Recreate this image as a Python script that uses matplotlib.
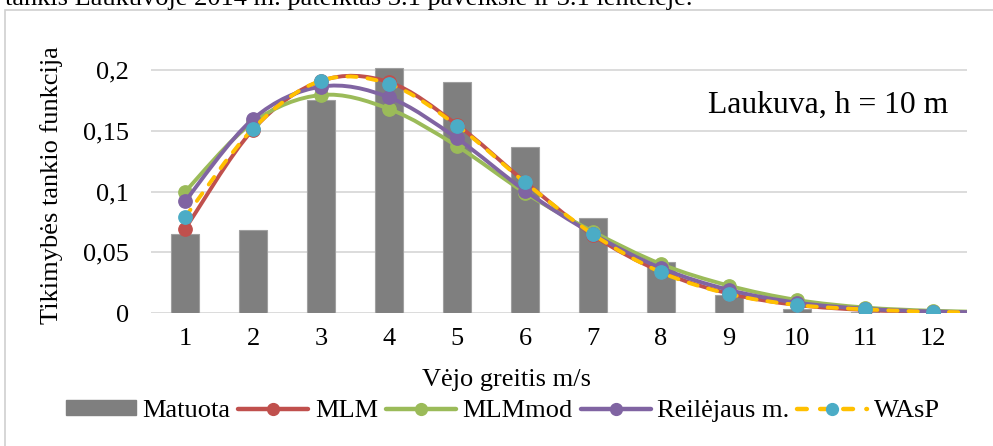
import numpy as np
import matplotlib
matplotlib.use("Agg")
import matplotlib.pyplot as plt
from matplotlib.path import Path
from matplotlib.patches import PathPatch, Patch, Rectangle
from matplotlib.lines import Line2D

plt.rcParams['font.family'] = ['Liberation Serif', 'DejaVu Serif']

speeds = list(range(1, 13))
tick_labels = [str(s) for s in speeds]

matuota = [0.065, 0.068, 0.175, 0.202, 0.190, 0.137, 0.0785, 0.042, 0.015, 0.003, 0.001, 0.0]

# fitted curves (13th value lies just beyond the axis, the line runs to the edge)
mlm = [0.069, 0.151, 0.191, 0.190, 0.155, 0.108, 0.064, 0.034, 0.016, 0.0066, 0.0025, 0.0009, 0.0003]
mlm_mod = [0.0998, 0.157, 0.1794, 0.168, 0.1374, 0.099, 0.067, 0.0403, 0.0225, 0.0107, 0.0045, 0.0018, 0.0007]
reilejaus = [0.0919, 0.1597, 0.1863, 0.1775, 0.1437, 0.1007, 0.065, 0.037, 0.019, 0.0085, 0.0035, 0.0012, 0.0004]
wasp = [0.0788, 0.1517, 0.1912, 0.1885, 0.1542, 0.1075, 0.0648, 0.0335, 0.0156, 0.0066, 0.003, 0.001, 0.0003]

yticks = [0, 0.05, 0.1, 0.15, 0.2]
ytick_labels = ['0', '0,05', '0,1', '0,15', '0,2']

RED = '#C0504D'
GREEN = '#9BBB59'
PURPLE = '#8064A2'
YELLOW = '#FFC000'
BLUE = '#4BACC6'
FS = 19


def smooth_path(xs, ys):
    # Excel-like smoothed line: Bezier segments through every point
    P = np.column_stack([xs, ys]).astype(float)
    n = len(P)
    verts = [P[0]]
    codes = [Path.MOVETO]
    for i in range(n - 1):
        p0 = P[i - 1] if i > 0 else P[i]
        p3 = P[i + 2] if i + 2 < n else P[i + 1]
        c1 = P[i] + (P[i + 1] - p0) / 6.0
        c2 = P[i + 1] - (p3 - P[i]) / 6.0
        verts += [c1, c2, P[i + 1]]
        codes += [Path.CURVE4] * 3
    return Path(verts, codes)


fig = plt.figure(figsize=(9.93, 4.46), dpi=100)
W, H = 993, 446
ax = fig.add_axes([151 / W, 1 - 313 / H, (967 - 151) / W, (313 - 55) / H])
ax.set_xlim(0.5, 12.5)
ax.set_ylim(0, 258 / 1215.0)

for s in ax.spines.values():
    s.set_visible(False)
ax.set_yticks(yticks)
ax.set_yticklabels(ytick_labels, fontsize=FS)
ax.set_xticks(speeds)
ax.set_xticklabels(tick_labels, fontsize=FS)
ax.tick_params(axis='both', length=0)
ax.tick_params(axis='y', pad=16)
ax.tick_params(axis='x', pad=11)
ax.grid(axis='y', color='#d9d9d9', linewidth=1.3, zorder=0)
ax.set_axisbelow(True)

ax.bar(speeds, matuota, width=0.4, color='#7f7f7f', edgecolor='#a0a0a0', linewidth=0.8, zorder=2)

series = [
    (mlm, RED, RED, '-'),
    (mlm_mod, GREEN, GREEN, '-'),
    (reilejaus, PURPLE, PURPLE, '-'),
    (wasp, YELLOW, BLUE, (0, (2.4, 2.8))),
]
xs_all = list(range(1, 14))
for k, (vals, lc, mc, ls) in enumerate(series):
    z = 3 + k
    patch = PathPatch(smooth_path(xs_all, vals), fill=False, edgecolor=lc, linewidth=2.8,
                      linestyle=ls, capstyle='round', zorder=z)
    ax.add_patch(patch)
    ax.plot(speeds, vals[:12], linestyle='none', marker='o', markersize=9.6,
            markerfacecolor=mc, markeredgecolor=mc, zorder=z + 0.5)

fig.text(948 / W, 1 - 105 / H, 'Laukuva, h = 10 m', fontsize=22.8, ha='right', va='center')

fig.text(52 / W, 1 - 185 / H, 'Tikimybės tankio funkcija', rotation=90, fontsize=FS,
         ha='center', va='center')
fig.text(506 / W, 1 - 380 / H, 'Vėjo greitis m/s', fontsize=FS, ha='center', va='center')

handles = [
    Patch(facecolor='#7f7f7f', edgecolor='#7f7f7f'),
    Line2D([], [], color=RED, lw=3.2, marker='o', markersize=8.5, solid_capstyle='round'),
    Line2D([], [], color=GREEN, lw=3.2, marker='o', markersize=8.5, solid_capstyle='round'),
    Line2D([], [], color=PURPLE, lw=3.2, marker='o', markersize=8.5, solid_capstyle='round'),
    Line2D([], [], color=YELLOW, lw=3.2, linestyle=(0, (2.2, 3.0)), dash_capstyle='round',
           marker='o', markersize=8.5, markerfacecolor=BLUE, markeredgecolor=BLUE),
]
labels = ['Matuota', 'MLM', 'MLMmod', 'Reilėjaus m.', 'WAsP']
fig.legend(handles, labels, loc='center left', bbox_to_anchor=(66 / W, 1 - 411 / H), ncol=5,
           frameon=False, fontsize=FS, handlelength=2.65, handleheight=0.5,
           handletextpad=0.25, columnspacing=0.3, borderaxespad=0, borderpad=0)

fig.text(5 / W, 1 - 5 / H, 'tankis Laukuvoje 2014 m. pateiktas 3.1 paveiksle ir 3.1 lentelėje.',
         fontsize=FS, ha='left', va='baseline')
fig.patches.append(Rectangle((4.5 / W, -0.1), 1.2, 1 - 9.5 / H + 0.1, transform=fig.transFigure,
                             fill=False, edgecolor='#d0d0d0', linewidth=1.2))

fig.savefig('out.png', dpi=100)
